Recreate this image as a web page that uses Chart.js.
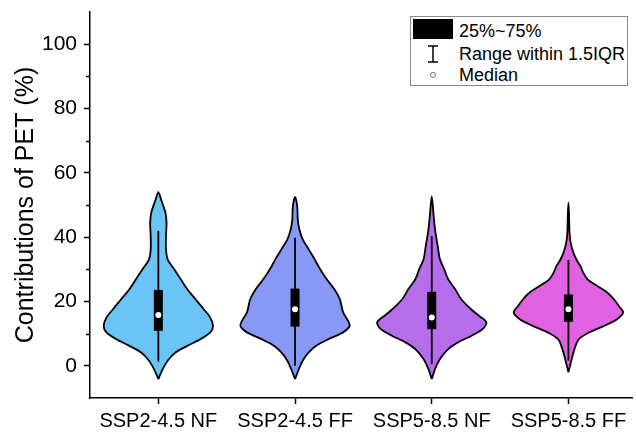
<!DOCTYPE html>
<html>
<head>
<meta charset="utf-8">
<script src="https://cdn.jsdelivr.net/npm/chart.js@4.4.1/dist/chart.umd.min.js"></script>
<style>
  html, body { margin:0; padding:0; background:#fff; }
  #wrap { position:relative; width:636px; height:432px; }
  #legend { position:absolute; left:410px; top:16px; width:218px; height:70px; box-sizing:border-box;
    border:1px solid #8a8a8a; background:#fff; font-family:"Liberation Sans", Arial, sans-serif; font-size:18px; color:#000; }
  #legend .sym { position:absolute; }
  #legend .txt { position:absolute; left:48px; height:20px; line-height:20px; white-space:nowrap; }
</style>
</head>
<body>
<div id="wrap">
  <canvas id="c" width="636" height="432"></canvas>
  <div id="legend">
    <div class="sym" style="left:2px;top:2px;width:40px;height:20px;background:#000;"></div>
    <div class="txt" style="top:4px;">25%~75%</div>
    <svg class="sym" style="left:16px;top:28px;" width="12" height="18">
      <line x1="1" y1="1" x2="11" y2="1" stroke="#000" stroke-width="1.5"/>
      <line x1="6" y1="1" x2="6" y2="17" stroke="#000" stroke-width="1.5"/>
      <line x1="1" y1="17" x2="11" y2="17" stroke="#000" stroke-width="1.5"/>
    </svg>
    <div class="txt" style="top:27px;">Range within 1.5IQR</div>
    <svg class="sym" style="left:18px;top:54px;" width="8" height="8">
      <circle cx="4" cy="4" r="2.5" fill="#fff" stroke="#777" stroke-width="1"/>
    </svg>
    <div class="txt" style="top:48px;">Median</div>
  </div>
</div>
<script>
const categories = ['SSP2-4.5 NF', 'SSP2-4.5 FF', 'SSP5-8.5 NF', 'SSP5-8.5 FF'];
const violinColors = ['#6AC4F5', '#8899F5', '#B66DE9', '#E062E2'];

// violin outlines: value (%) and relative half-width (0-1), bottom to top
const nf245Values  = [-4.1, -1.0, 1.6, 4.2, 6.2, 8.3, 10.4, 12.4, 15.0, 17.6, 20.7, 23.8, 26.9, 30.0, 33.1, 36.2, 40.3, 44.5, 47.6, 51.7, 54.0];
const nf245Density = [0, 0.08, 0.17, 0.32, 0.53, 0.77, 0.95, 1.0, 0.95, 0.83, 0.68, 0.53, 0.41, 0.29, 0.17, 0.14, 0.14, 0.15, 0.13, 0.05, 0];

const ff245Values  = [-4.1, -1.0, 1.6, 4.2, 6.2, 8.3, 10.4, 12.4, 14.0, 16.6, 18.6, 20.7, 23.8, 26.9, 30.0, 33.1, 36.2, 39.3, 42.4, 45.5, 49.6, 52.5];
const ff245Density = [0, 0.07, 0.14, 0.25, 0.38, 0.61, 0.88, 1.0, 0.97, 0.88, 0.85, 0.82, 0.72, 0.58, 0.46, 0.36, 0.25, 0.14, 0.08, 0.05, 0.04, 0];

const nf585Values  = [-4.1, -1.0, 2.1, 5.2, 7.3, 9.3, 11.4, 13.5, 15.5, 17.6, 20.7, 23.8, 26.9, 30.0, 33.1, 37.2, 42.4, 47.6, 52.7];
const nf585Density = [0, 0.06, 0.15, 0.30, 0.48, 0.72, 0.93, 1.0, 0.87, 0.72, 0.54, 0.43, 0.30, 0.23, 0.15, 0.11, 0.06, 0.03, 0];

const ff585Values  = [-2.0, 2.1, 5.2, 8.3, 10.4, 12.4, 14.5, 16.6, 18.6, 20.7, 22.8, 24.8, 26.9, 29.0, 31.0, 32.6, 35.2, 38.3, 41.4, 47.6, 50.7];
const ff585Density = [0, 0.06, 0.11, 0.19, 0.38, 0.65, 0.89, 1.0, 0.92, 0.83, 0.71, 0.53, 0.35, 0.27, 0.22, 0.16, 0.09, 0.04, 0.02, 0.01, 0];

// box stats per category
const q1 = [10.9, 12.2, 11.4, 13.7];
const q3 = [23.6, 24.0, 23.0, 22.2];
const medians = [15.8, 17.6, 15.0, 17.6];
const whiskerLow = [1.3, 0.0, 0.5, 1.6];
const whiskerHigh = [41.9, 39.8, 40.3, 32.9];

const yMajorTicks = [0, 20, 40, 60, 80, 100];
const yMinorTicks = [10, 30, 50, 70, 90];

const profiles = [
  [nf245Values, nf245Density],
  [ff245Values, ff245Density],
  [nf585Values, nf585Density],
  [ff585Values, ff585Density],
];
const halfWidth = 0.40; // category units at density 1

function violinPoints(i, values, dens) {
  const right = values.map((v, k) => ({x: i + dens[k] * halfWidth, y: v}));
  const left = values.map((v, k) => ({x: i - dens[k] * halfWidth, y: v})).reverse();
  return right.concat(left.slice(1));
}

const datasets = [];
profiles.forEach(([vals, dens], i) => {
  datasets.push({ data: violinPoints(i, vals, dens), showLine: true, fill: 'shape',
    backgroundColor: violinColors[i], borderColor: '#000', borderWidth: 1.8,
    pointRadius: 0, tension: 0.3, order: 4 });
  datasets.push({ data: [{x: i, y: whiskerLow[i]}, {x: i, y: whiskerHigh[i]}], showLine: true,
    borderColor: '#000', borderWidth: 1.8, pointRadius: 0, order: 3 });
  datasets.push({ data: [{x: i, y: q1[i]}, {x: i, y: q3[i]}], showLine: true,
    borderColor: '#000', borderWidth: 9, borderCapStyle: 'butt', pointRadius: 0, order: 2 });
  datasets.push({ data: [{x: i, y: medians[i]}], pointRadius: 3, pointBackgroundColor: '#fff',
    pointBorderWidth: 0, pointBorderColor: '#fff', order: 1 });
});

// short minor ticks on y axis
const minorTicks = {
  id: 'minorTicks',
  afterDraw(chart) {
    const y = chart.scales.y, ctx = chart.ctx, x0 = chart.chartArea.left;
    ctx.save();
    ctx.strokeStyle = '#000'; ctx.lineWidth = 1.5;
    yMinorTicks.forEach(v => {
      const py = Math.round(y.getPixelForValue(v)) + 0.5;
      ctx.beginPath(); ctx.moveTo(x0 - 4, py); ctx.lineTo(x0, py); ctx.stroke();
    });
    ctx.restore();
  }
};

const font = 'Liberation Sans, Arial, sans-serif';
new Chart(document.getElementById('c').getContext('2d'), {
  type: 'scatter',
  data: { datasets },
  options: {
    responsive: false, animation: false, devicePixelRatio: 1,
    layout: { padding: { top: 12, right: 0, left: 0, bottom: 0 } },
    plugins: { legend: { display: false }, tooltip: { enabled: false } },
    scales: {
      x: { type: 'linear', min: -0.5, max: 3.465,
        afterBuildTicks: s => { s.ticks = categories.map((_, i) => ({value: i})); },
        afterFit: s => { s.height = 34; s.paddingLeft = 0; s.paddingRight = 0; },
        ticks: { callback: v => categories[v], color: '#000', font: { family: font, size: 20 }, padding: 5, maxRotation: 0, autoSkip: false },
        grid: { drawOnChartArea: false, tickLength: 6, color: '#000', tickWidth: 1.5 },
        border: { color: '#000', width: 1.5 } },
      y: { min: -10, max: 110,
        afterBuildTicks: s => { s.ticks = yMajorTicks.map(v => ({value: v})); },
        afterFit: s => { s.width = 90; s.paddingTop = 0; s.paddingBottom = 0; },
        ticks: { color: '#000', font: { family: font, size: 21 }, padding: 7 },
        grid: { drawOnChartArea: false, tickLength: 6, color: '#000', tickWidth: 1.5 },
        border: { color: '#000', width: 1.5 },
        title: { display: true, text: 'Contributions of PET (%)', color: '#000', font: { family: font, size: 25 }, padding: { top: 11, bottom: 0 } } },
    },
  },
  plugins: [minorTicks],
});
</script>
</body>
</html>
